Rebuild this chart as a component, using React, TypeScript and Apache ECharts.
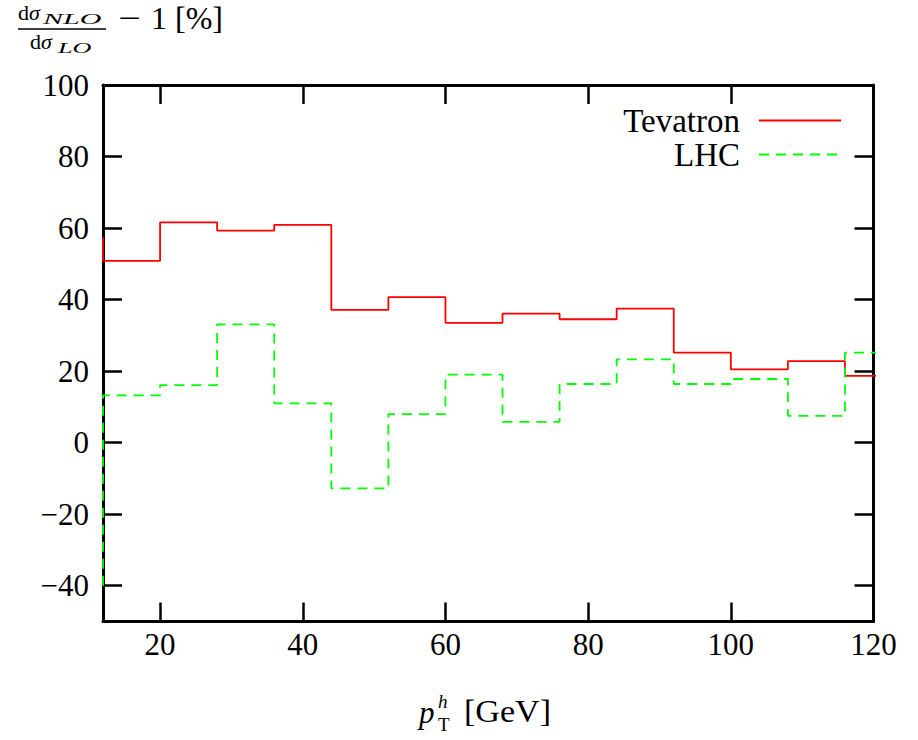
import React, { useEffect, useRef } from "react";
import * as echarts from "echarts";

// Histogram bins: upper edges (the first entry is the upper edge of the clipped underflow bin)
const binUpperEdges = [12, 20, 28, 36, 44, 52, 60, 68, 76, 84, 92, 100, 108, 116, 124];
const tevatronValues = [57.4, 50.8, 61.6, 59.3, 60.9, 37.1, 40.7, 33.5, 36.1, 34.5, 37.5, 25.2, 20.5, 22.8, 18.7];
const lhcValues = [-40, 13.2, 16.1, 33.1, 11.0, -12.8, 8.0, 19.0, 5.8, 16.4, 23.3, 16.4, 17.8, 7.5, 25.2];

const xTicks = [20, 40, 60, 80, 100, 120];
const yTicks = [-40, -20, 0, 20, 40, 60, 80, 100];
const seriesNames = ["Tevatron", "LHC"];

const FAMILY = "Liberation Serif";

function fmt(v: number) {
  return v < 0 ? "\u2212" + Math.abs(v) : String(v);
}

export default function App() {
  const ref = useRef<HTMLDivElement>(null);
  useEffect(() => {
    if (!ref.current) return;
    const chart = echarts.init(ref.current, null, { renderer: "svg" });
    const axisLine = { show: true, onZero: false, lineStyle: { color: "#000", width: 3 } };
    const tick = (vals: number[]) => ({
      show: true,
      inside: true,
      length: 19,
      customValues: vals,
      lineStyle: { color: "#000", width: 2.5 },
    });
    const label = (vals: number[], margin: number) => ({
      show: true,
      customValues: vals,
      formatter: (v: number) => fmt(v),
      color: "#000",
      fontFamily: FAMILY,
      fontSize: 31,
      margin,
    });
    const noLabel = { show: false };
    const txt = (
      text: string,
      x: number,
      y: number,
      size: number,
      italic = false,
      scaleX = 1
    ) => ({
      type: "text",
      x,
      y,
      scaleX,
      style: {
        text,
        x: 0,
        y: 0,
        fontFamily: FAMILY,
        fontSize: size,
        fontStyle: italic ? "italic" : "normal",
        fill: "#000",
        verticalAlign: "middle",
        align: "left",
      },
    });
    const toData = (vals: number[]) => binUpperEdges.map((x, i) => [x, vals[i]]);

    chart.setOption({
      animation: false,
      backgroundColor: "#fff",
      textStyle: { fontFamily: FAMILY },
      grid: { left: 103, right: 44.5, top: 85, bottom: 118.5, containLabel: false },
      xAxis: [
        {
          type: "value",
          position: "bottom",
          min: 12,
          max: 120,
          axisLine,
          axisTick: tick(xTicks),
          axisLabel: label(xTicks, 7),
          splitLine: { show: false },
        },
        {
          type: "value",
          position: "top",
          min: 12,
          max: 120,
          axisLine,
          axisTick: tick(xTicks),
          axisLabel: noLabel,
          splitLine: { show: false },
        },
      ],
      yAxis: [
        {
          type: "value",
          position: "left",
          min: -50,
          max: 100,
          axisLine,
          axisTick: tick(yTicks),
          axisLabel: label(yTicks, 14),
          splitLine: { show: false },
        },
        {
          type: "value",
          position: "right",
          min: -50,
          max: 100,
          axisLine,
          axisTick: tick(yTicks),
          axisLabel: noLabel,
          splitLine: { show: false },
        },
      ],
      legend: {
        show: true,
        orient: "vertical",
        align: "right",
        right: 76,
        top: 104,
        padding: 0,
        itemWidth: 82,
        itemHeight: 14,
        itemGap: 1,
        data: seriesNames,
        itemStyle: { opacity: 0 },
        textStyle: {
          fontFamily: FAMILY,
          fontSize: 33,
          lineHeight: 30,
          color: "#000",
          padding: [0, 14, 0, 0],
        },
      },
      series: [
        {
          name: seriesNames[0],
          type: "line",
          step: "start",
          symbol: "none",
          clip: true,
          data: toData(tevatronValues),
          lineStyle: { color: "#ff0000", width: 1.8 },
          itemStyle: { color: "#ff0000" },
        },
        {
          name: seriesNames[1],
          type: "line",
          step: "start",
          symbol: "none",
          clip: true,
          data: toData(lhcValues),
          lineStyle: { color: "#00ff00", width: 1.8, type: [10, 7] },
          itemStyle: { color: "#00ff00" },
        },
      ],
      graphic: [
        // y-axis title: dσ_NLO / dσ_LO − 1 [%]
        txt("d", 18, 12.5, 22),
        txt("σ", 29, 12.5, 22, true),
        txt("NLO", 43, 19, 15, true, 2.0),
        {
          type: "line",
          shape: { x1: 18, y1: 29, x2: 106, y2: 29 },
          style: { stroke: "#000", lineWidth: 1.4 },
        },
        txt("d", 30, 41.5, 22),
        txt("σ", 41, 41.5, 22, true),
        txt("LO", 58, 48, 15, true, 1.75),
        txt("\u2212", 118, 18, 32, false, 1.25),
        txt("1 [%]", 151, 18, 32),
        // x-axis title: p_T^h [GeV]
        txt("p", 419, 712, 31, true),
        txt("h", 438, 701, 19, true),
        txt("T", 438, 724, 19),
        txt("[GeV]", 464, 712, 31, false, 1.1),
      ],
    });
    return () => chart.dispose();
  }, []);
  return (
    <div
      ref={ref}
      style={{ position: "absolute", left: 0, top: 0, width: 918, height: 740, background: "#fff" }}
    />
  );
}
